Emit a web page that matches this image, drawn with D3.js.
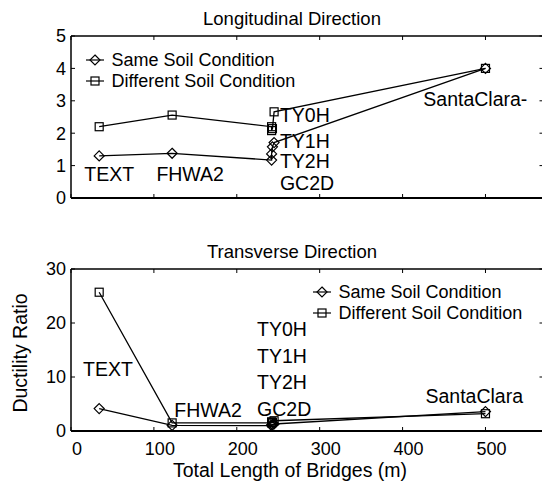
<!DOCTYPE html>
<html>
<head>
<meta charset="utf-8">
<script src="https://cdn.jsdelivr.net/npm/d3@7"></script>
<style>
  html, body { margin: 0; padding: 0; background: #fff; }
  svg { display: block; font-family: "Liberation Sans", Arial, sans-serif; }
</style>
</head>
<body>
<svg id="chart" width="542" height="494"></svg>
<script>
// Bridge names in order of total length
const bridges = ["TEXT", "FHWA2", "GC2D", "TY2H", "TY1H", "TY0H", "SantaClara"];
// Total length of each bridge (m)
const lengths = [34, 122, 242, 242, 243, 245, 500];

// Longitudinal direction ductility ratios
const longSame = [1.3, 1.38, 1.17, 1.36, 1.58, 1.71, 4.0];
const longDiff = [2.2, 2.56, 2.2, 2.08, 2.14, 2.66, 4.0];

// Transverse direction ductility ratios
const transSame = [4.15, 1.05, 1.0, 1.1, 1.2, 1.3, 3.6];
const transDiff = [25.7, 1.5, 1.5, 1.7, 1.6, 1.9, 3.2];

// Tick values
const xTicks = [0, 100, 200, 300, 400, 500];
const longYTicks = [0, 1, 2, 3, 4, 5];
const transYTicks = [0, 10, 20, 30];

// Name annotations placed in data coordinates [text, x, y]
const longLabels = [
  ["TEXT", 16, 0.74], ["FHWA2", 103, 0.74],
  ["TY0H", 252, 2.56], ["TY1H", 252, 1.77], ["TY2H", 252, 1.15], ["GC2D", 252, 0.47],
  ["SantaClara-", 425, 3.05]
];
const transLabels = [
  ["TEXT", 14.5, 11.4], ["FHWA2", 124.7, 3.84],
  ["TY0H", 224.5, 18.85], ["TY1H", 224.5, 13.9], ["TY2H", 224.5, 9.1], ["GC2D", 224.5, 4.15],
  ["SantaClara", 427.6, 6.5]
];

const seriesNames = ["Same Soil Condition", "Different Soil Condition"];

const svg = d3.select("#chart");
const left = 71, right = 543.5;

const x = d3.scaleLinear().domain([0, 570]).range([left, right]);

function diamond(g, cx, cy, r) {
  g.append("path")
    .attr("d", `M${cx},${cy - r}L${cx + r},${cy}L${cx},${cy + r}L${cx - r},${cy}Z`)
    .attr("fill", "none").attr("stroke", "#000").attr("stroke-width", 1.2);
}
function square(g, cx, cy, r) {
  g.append("rect")
    .attr("x", cx - r).attr("y", cy - r).attr("width", 2 * r).attr("height", 2 * r)
    .attr("fill", "none").attr("stroke", "#000").attr("stroke-width", 1.2);
}

function panel(opts) {
  const { top, bottom, yDomain, yTicks, title, titleY, same, diff, labels, legend, showXLabels } = opts;
  const y = d3.scaleLinear().domain(yDomain).range([bottom, top]);
  const g = svg.append("g");

  // box with inward ticks on all sides
  const tickLen = 4;
  g.append("line").attr("x1", left).attr("x2", right + 4).attr("y1", bottom).attr("y2", bottom)
    .attr("stroke", "#000").attr("stroke-width", 2);
  g.append("line").attr("x1", left).attr("x2", right + 4).attr("y1", top).attr("y2", top)
    .attr("stroke", "#000").attr("stroke-width", 1.5);
  g.append("line").attr("x1", left).attr("x2", left).attr("y1", top).attr("y2", bottom)
    .attr("stroke", "#000").attr("stroke-width", 1.5);
  g.append("line").attr("x1", right).attr("x2", right).attr("y1", top).attr("y2", bottom)
    .attr("stroke", "#000").attr("stroke-width", 1.5);

  xTicks.forEach(t => {
    g.append("line").attr("x1", x(t)).attr("x2", x(t)).attr("y1", bottom).attr("y2", bottom - tickLen)
      .attr("stroke", "#000").attr("stroke-width", 1);
    g.append("line").attr("x1", x(t)).attr("x2", x(t)).attr("y1", top).attr("y2", top + tickLen)
      .attr("stroke", "#000").attr("stroke-width", 1);
  });
  yTicks.forEach(t => {
    g.append("line").attr("x1", left).attr("x2", left + tickLen).attr("y1", y(t)).attr("y2", y(t))
      .attr("stroke", "#000").attr("stroke-width", 1);
    g.append("line").attr("x1", right).attr("x2", right - tickLen).attr("y1", y(t)).attr("y2", y(t))
      .attr("stroke", "#000").attr("stroke-width", 1);
    g.append("text").attr("x", left - 5).attr("y", y(t)).attr("dy", "0.36em")
      .attr("text-anchor", "end").attr("font-size", 18).text(t);
  });
  if (showXLabels) {
    xTicks.forEach(t => {
      g.append("text").attr("x", x(t) + 6).attr("y", bottom + 24)
        .attr("text-anchor", "middle").attr("font-size", 18).text(t);
    });
  }

  g.append("text").attr("x", 292).attr("y", titleY).attr("text-anchor", "middle")
    .attr("font-size", 18.5).text(title);

  const line = d3.line().x(d => x(d[0])).y(d => y(d[1]));
  const sameData = lengths.map((l, i) => [l, same[i]]);
  const diffData = lengths.map((l, i) => [l, diff[i]]);
  g.append("path").attr("d", line(sameData)).attr("fill", "none").attr("stroke", "#000").attr("stroke-width", 1.3);
  g.append("path").attr("d", line(diffData)).attr("fill", "none").attr("stroke", "#000").attr("stroke-width", 1.3);
  sameData.forEach(d => diamond(g, x(d[0]), y(d[1]), 5));
  diffData.forEach(d => square(g, x(d[0]), y(d[1]), 4));

  labels.forEach(([t, lx, ly]) => {
    g.append("text").attr("x", x(lx)).attr("y", y(ly)).attr("dy", "0.36em")
      .attr("font-size", 19.5).text(t);
  });

  // legend
  const [lx, ly] = legend;
  seriesNames.forEach((name, i) => {
    const cy = ly + i * 21;
    g.append("line").attr("x1", lx - 9).attr("x2", lx + 9).attr("y1", cy).attr("y2", cy)
      .attr("stroke", "#000").attr("stroke-width", 1.2);
    if (i === 0) diamond(g, lx, cy, 5); else square(g, lx, cy, 4);
    g.append("text").attr("x", lx + 16.5).attr("y", cy).attr("dy", "0.36em")
      .attr("font-size", 18).text(name);
  });
}

panel({
  top: 36, bottom: 198, yDomain: [0, 5], yTicks: longYTicks,
  title: "Longitudinal Direction", titleY: 25,
  same: longSame, diff: longDiff, labels: longLabels,
  legend: [95, 60], showXLabels: false
});

panel({
  top: 269, bottom: 431, yDomain: [0, 30], yTicks: transYTicks,
  title: "Transverse Direction", titleY: 258,
  same: transSame, diff: transDiff, labels: transLabels,
  legend: [322, 292], showXLabels: true
});

svg.append("text").attr("x", 290).attr("y", 477).attr("text-anchor", "middle")
  .attr("font-size", 19.5).text("Total Length of Bridges (m)");
svg.append("text").attr("transform", "translate(27,353) rotate(-90)")
  .attr("text-anchor", "middle").attr("font-size", 19.5).text("Ductility Ratio");
</script>
</body>
</html>
